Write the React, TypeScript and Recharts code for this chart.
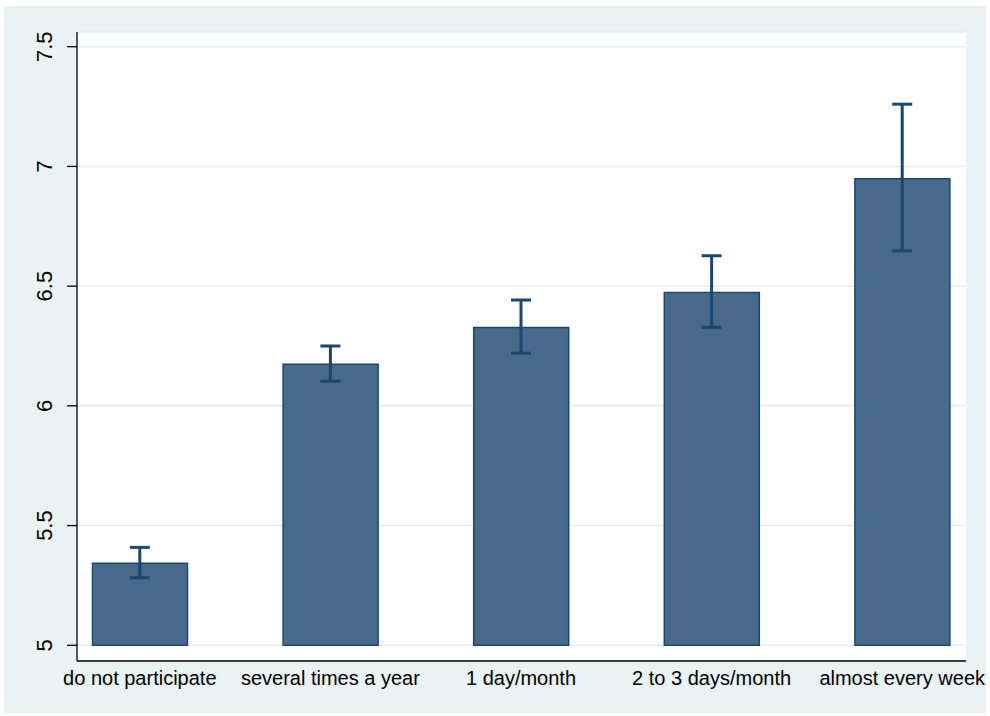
import React from 'react';
import { ComposedChart, Bar, Scatter, ErrorBar, XAxis, YAxis, CartesianGrid } from 'recharts';

const categories = ['do not participate', 'several times a year', '1 day/month', '2 to 3 days/month', 'almost every week'];
const means = [5.343, 6.174, 6.327, 6.473, 6.949];
const lower = [5.282, 6.103, 6.220, 6.328, 6.647];
const upper = [5.409, 6.250, 6.442, 6.627, 7.260];
const yTicks = [5, 5.5, 6, 6.5, 7, 7.5];
const xTicks = [0, 1, 2, 3, 4];

const data = categories.map((c, i) => ({
  idx: i,
  name: c,
  mean: means[i],
  range: [5, means[i]],
  err: [means[i] - lower[i], upper[i] - means[i]],
}));

const FONT = '"Liberation Sans", Arial, sans-serif';

const XTick = (props: any) => {
  const { x, y, payload } = props;
  return (
    <text x={x} y={y + 23.5} textAnchor="middle" fontSize={20} fontFamily={FONT} fill="#000">
      {categories[payload.value]}
    </text>
  );
};

const YTick = (props: any) => {
  const { x, y, payload } = props;
  const tx = x - 14.5;
  return (
    <text x={tx} y={y} textAnchor="middle" fontSize={22} fontFamily={FONT} fill="#000" transform={`rotate(-90, ${tx}, ${y})`}>
      {String(payload.value)}
    </text>
  );
};

export default function App() {
  return (
    <div style={{ position: 'absolute', left: 0, top: 0, width: 990, height: 716, background: '#fff' }}>
      <div style={{ position: 'absolute', left: 4, top: 6, width: 982, height: 707, background: '#EAF2F3' }}>
        <ComposedChart width={982} height={707} data={data} margin={{ top: 26, right: 20, bottom: 12, left: 0 }}>
          <CartesianGrid vertical={false} fill="#fff" stroke="#E4EDF0" strokeWidth={1.5} />
          <XAxis
            dataKey="idx"
            type="number"
            domain={[-0.3295, 4.3347]}
            ticks={xTicks}
            allowDataOverflow
            height={40}
            tickSize={0}
            tickMargin={0}
            tickLine={false}
            axisLine={{ stroke: '#000', strokeWidth: 1.3 }}
            tick={<XTick />}
            interval={0}
          />
          <YAxis
            type="number"
            domain={[4.9344, 7.5614]}
            ticks={yTicks}
            allowDataOverflow
            width={73}
            tickSize={10}
            tickMargin={0}
            tickLine={{ stroke: '#000', strokeWidth: 1.3 }}
            axisLine={{ stroke: '#000', strokeWidth: 1.3 }}
            tick={<YTick />}
            interval={0}
          />
          <Bar dataKey="range" barSize={95} fill="#486A8A" stroke="#1A476F" strokeWidth={1.5} isAnimationActive={false} />
          <Scatter dataKey="mean" shape={() => <g />} isAnimationActive={false}>
            <ErrorBar dataKey="err" direction="y" width={10} stroke="#1A476F" strokeWidth={3} isAnimationActive={false} />
          </Scatter>
        </ComposedChart>
      </div>
    </div>
  );
}
